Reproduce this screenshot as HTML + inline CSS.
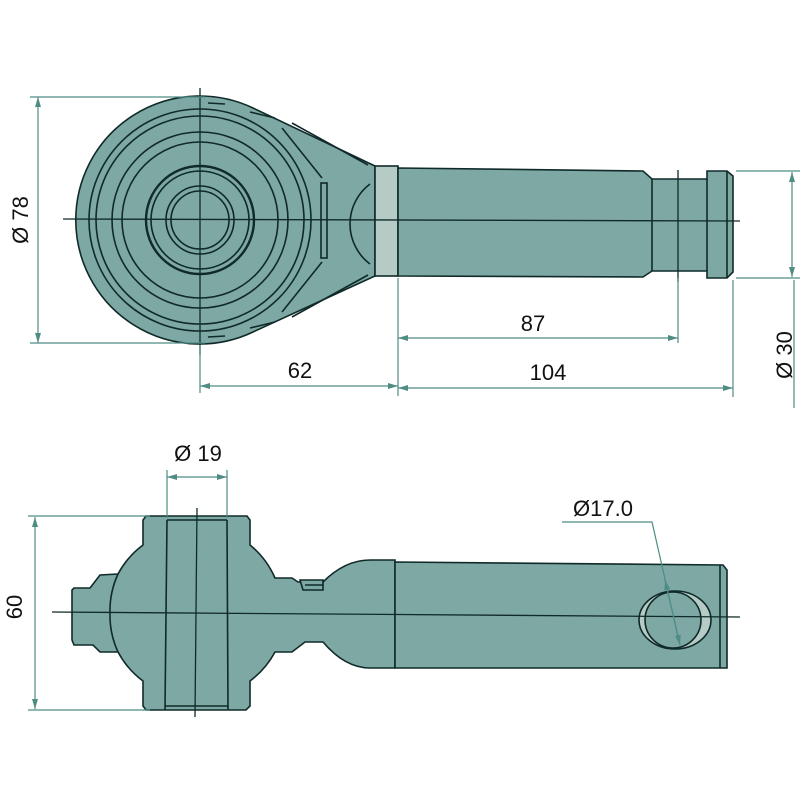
<!DOCTYPE html>
<html><head><style>html,body{margin:0;padding:0;background:#fff}svg{display:block}</style></head>
<body>
<svg width="800" height="800" viewBox="0 0 800 800" xmlns="http://www.w3.org/2000/svg" font-family="Liberation Sans, sans-serif">
<defs>
<marker id="a" viewBox="0 0 10 6" refX="10" refY="3" markerWidth="10" markerHeight="6" orient="auto-start-reverse" markerUnits="userSpaceOnUse"><path d="M0,0 L10,3 L0,6 z" fill="#4e8c84"/></marker>
</defs>
<g stroke="#0f2a28" stroke-width="1.6" fill="#7ea8a4">
<!-- TOP VIEW -->
<path d="M375,166 L253,108 A124,124 0 1 0 253,332 L375,276 Z"/>
<rect x="375" y="166" width="23" height="110" fill="#b7cbc6"/>
<path d="M398,168 L643,171 L652,179 L707,179 L707,171 L727,171 L733,176 L733,272 L727,278 L707,278 L707,271 L652,271 L643,277 L398,276 Z"/>
<line x1="652" y1="179" x2="652" y2="271"/>
<line x1="707" y1="179" x2="707" y2="271"/>
<line x1="727" y1="171" x2="727" y2="278"/>
<g fill="none">
<circle cx="200" cy="220" r="111"/>
<circle cx="200" cy="220" r="104"/>
<circle cx="200" cy="220" r="88"/>
<circle cx="200" cy="220" r="78"/>
<circle cx="200" cy="220" r="54" stroke-width="2.4"/>
<circle cx="200" cy="220" r="49"/>
<circle cx="200" cy="220" r="34"/>
<circle cx="200" cy="220" r="29"/>
<path d="M370,184 A50,50 0 0 0 370,264"/>
<path d="M250,112 L275,118 M250,328 L275,322"/>
<path d="M282,128 L322,178 M282,312 L322,262"/>
<path d="M292,123 L368,165 M292,317 L368,275"/>
<rect x="321" y="183" width="6" height="75"/>
<path d="M208,103 L225,104 M208,337 L225,336"/>
</g>
<!-- BOTTOM VIEW -->
<path d="M146,516 L247,516 L250,520 L250,545 A88,88 0 0 1 275,578 L292,578 L298,582 L323,582 Q345,560 370,560 L395,560 L395,668 L370,668 Q345,668 323,642 L305,642 L292,652 L275,652 A88,88 0 0 1 250,681 L250,706 L246,710 L146,710 L143,706 L143,681 A88,88 0 0 1 118,652 L100,652 L93,645 L74,645 L72,640 L72,590 L74,588 L90,588 L100,575 L118,574 A88,88 0 0 1 143,545 L143,520 Z"/>
<path d="M110,613 A88,88 0 0 0 118,652 M110,613 A88,88 0 0 1 118,574" fill="none"/>
<path d="M395,562 L723,565 L727,570 L727,668 L723,668 L395,668 Z"/>
<line x1="720" y1="565" x2="720" y2="668"/>
<line x1="167" y1="520" x2="165" y2="710"/>
<line x1="227" y1="520" x2="228" y2="710"/>
<line x1="167" y1="520" x2="227" y2="520"/>
<line x1="165" y1="706" x2="228" y2="706"/>
<path d="M300,580 L323,580 L323,590 L303,590 Z" fill="#7ea8a4"/>
<line x1="305" y1="585" x2="323" y2="585"/>
<ellipse cx="675" cy="620" rx="36" ry="29" fill="#b7cbc6"/>
<ellipse cx="673" cy="620" rx="28" ry="28"/>
</g>
<!-- center lines -->
<g stroke="#0f2a28" stroke-width="1.3">
<line x1="63" y1="219" x2="740" y2="221"/>
<line x1="200" y1="88" x2="200" y2="355"/>
<line x1="678" y1="170" x2="678" y2="282"/>
<line x1="52" y1="612" x2="740" y2="617"/>
<line x1="197" y1="508" x2="195" y2="717"/>
</g>
<!-- dimensions -->
<g stroke="#4e8c84" stroke-width="1.2" fill="none">
<line x1="30" y1="97" x2="205" y2="97"/>
<line x1="30" y1="343" x2="205" y2="343"/>
<line x1="38" y1="97" x2="38" y2="343" marker-start="url(#a)" marker-end="url(#a)"/>
<line x1="200" y1="345" x2="200" y2="393"/>
<line x1="398" y1="278" x2="398" y2="396"/>
<line x1="678" y1="278" x2="678" y2="343"/>
<line x1="733" y1="280" x2="733" y2="397"/>
<line x1="200" y1="386" x2="398" y2="386" marker-start="url(#a)" marker-end="url(#a)"/>
<line x1="398" y1="388" x2="733" y2="388" marker-start="url(#a)" marker-end="url(#a)"/>
<line x1="398" y1="338" x2="678" y2="338" marker-start="url(#a)" marker-end="url(#a)"/>
<line x1="736" y1="171" x2="800" y2="171"/>
<line x1="736" y1="278" x2="800" y2="278"/>
<line x1="792" y1="172" x2="792" y2="277" marker-start="url(#a)" marker-end="url(#a)"/>
<line x1="794" y1="280" x2="794" y2="408"/>
<line x1="167" y1="470" x2="167" y2="518"/>
<line x1="227" y1="470" x2="227" y2="518"/>
<line x1="167" y1="477" x2="227" y2="477" marker-start="url(#a)" marker-end="url(#a)"/>
<line x1="28" y1="516" x2="150" y2="516"/>
<line x1="28" y1="710" x2="150" y2="710"/>
<line x1="35" y1="517" x2="35" y2="709" marker-start="url(#a)" marker-end="url(#a)"/>
<polyline points="562,522 652,522 680,645"/>
<line x1="665" y1="580" x2="680" y2="645" marker-start="url(#a)" marker-end="url(#a)"/>
</g>
<g fill="#111" font-size="22">
<text x="300" y="378" text-anchor="middle">62</text>
<text x="548" y="380" text-anchor="middle">104</text>
<text x="533" y="331" text-anchor="middle">87</text>
<text x="198" y="461" text-anchor="middle">Ø 19</text>
<text x="603" y="516" text-anchor="middle">Ø17.0</text>
<text transform="translate(28,220) rotate(-90)" text-anchor="middle">Ø 78</text>
<text transform="translate(792,355) rotate(-90)" text-anchor="middle">Ø 30</text>
<text transform="translate(22,607) rotate(-90)" text-anchor="middle">60</text>
</g>
</svg>
</body></html>
